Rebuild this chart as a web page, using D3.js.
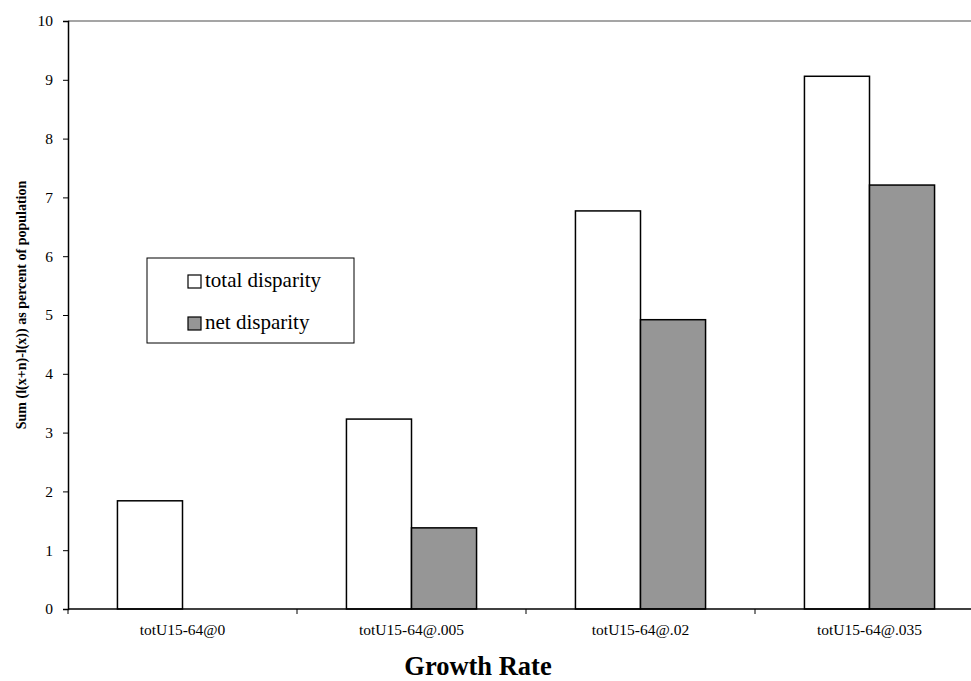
<!DOCTYPE html>
<html>
<head>
<meta charset="utf-8">
<script src="https://cdn.jsdelivr.net/npm/d3@7"></script>
<style>
  html, body { margin: 0; padding: 0; background: #fff; }
  svg { display: block; font-family: "Liberation Serif", "Times New Roman", serif; }
</style>
</head>
<body>
<svg id="chart" width="971" height="681"></svg>
<script>
// Growth-rate scenarios and disparity measures (percent of population)
const categories = ["totU15-64@0", "totU15-64@.005", "totU15-64@.02", "totU15-64@.035"];
const seriesNames = ["total disparity", "net disparity"];
const totalDisparity = [1.84, 3.23, 6.77, 9.06];
const netDisparity = [0, 1.38, 4.92, 7.21];
const yTicks = [0, 1, 2, 3, 4, 5, 6, 7, 8, 9, 10];
const seriesFill = ["#ffffff", "#969696"];

const svg = d3.select("#chart");
const plot = { left: 68, top: 21, right: 984, bottom: 609 };

const x0 = d3.scaleBand().domain(categories).range([plot.left, plot.right]).paddingInner(0).paddingOuter(0);
const x1 = d3.scaleBand().domain(seriesNames).range([0, x0.bandwidth()]).paddingInner(0).paddingOuter(0.76);
const y = d3.scaleLinear().domain([0, 10]).range([plot.bottom, plot.top]);

// plot frame (top and right edges)
svg.append("path")
  .attr("d", `M${plot.left},${plot.top}H${plot.right}V${plot.bottom}`)
  .attr("fill", "none").attr("stroke", "#888").attr("stroke-width", 1.5);

const rows = categories.map((c, i) => ({ cat: c, values: [totalDisparity[i], netDisparity[i]] }));

const groups = svg.append("g").selectAll("g").data(rows).join("g")
  .attr("transform", d => `translate(${x0(d.cat)},0)`);

groups.selectAll("rect").data(d => d.values.map((v, j) => ({ name: seriesNames[j], v, j })))
  .join("rect")
  .attr("x", d => x1(d.name))
  .attr("width", x1.bandwidth())
  .attr("y", d => y(d.v))
  .attr("height", d => y(0) - y(d.v))
  .attr("fill", d => seriesFill[d.j])
  .attr("stroke", "#000")
  .attr("stroke-width", 1.5);

// y axis
const yAxis = svg.append("g").attr("transform", `translate(${plot.left},0)`)
  .call(d3.axisLeft(y).tickValues(yTicks).tickSize(5).tickPadding(10).tickFormat(d3.format("d")));
yAxis.select(".domain").attr("stroke", "#000").attr("stroke-width", 1.5);
yAxis.selectAll(".tick line").attr("stroke", "#000");
yAxis.selectAll(".tick text").attr("font-size", 15.5).attr("font-family", "Liberation Serif").attr("fill", "#000");

// x axis: ticks sit on the group boundaries, labels centred in each band
const xAxisG = svg.append("g").attr("transform", `translate(0,${plot.bottom})`);
xAxisG.append("line").attr("x1", plot.left).attr("x2", plot.right).attr("y1", 0).attr("y2", 0)
  .attr("stroke", "#000").attr("stroke-width", 1.5);
xAxisG.selectAll("line.tick").data(categories).join("line").attr("class", "tick")
  .attr("x1", d => x0(d)).attr("x2", d => x0(d)).attr("y1", 0).attr("y2", 5)
  .attr("stroke", "#000");
xAxisG.selectAll("text").data(categories).join("text")
  .attr("x", d => x0(d) + x0.bandwidth() / 2)
  .attr("y", 26)
  .attr("text-anchor", "middle")
  .attr("font-size", 15.5)
  .text(d => d);

// axis titles
svg.append("text")
  .attr("x", 478).attr("y", 675)
  .attr("text-anchor", "middle")
  .attr("font-size", 26.5).attr("font-weight", "bold")
  .text("Growth Rate");

svg.append("text")
  .attr("transform", "translate(26,305) rotate(-90)")
  .attr("text-anchor", "middle")
  .attr("font-size", 14).attr("font-weight", "bold")
  .text("Sum (l(x+n)-l(x)) as percent of population");

// legend
const legend = svg.append("g");
legend.append("rect").attr("x", 147).attr("y", 258).attr("width", 207).attr("height", 85)
  .attr("fill", "#fff").attr("stroke", "#000").attr("stroke-width", 1);
seriesNames.forEach((name, i) => {
  const top = 275 + i * 42;
  legend.append("rect").attr("x", 188).attr("y", top).attr("width", 13).attr("height", 13)
    .attr("fill", seriesFill[i]).attr("stroke", "#000").attr("stroke-width", 1.2);
  legend.append("text").attr("x", 205).attr("y", top + 12)
    .attr("font-size", 21).text(name);
});
</script>
</body>
</html>
